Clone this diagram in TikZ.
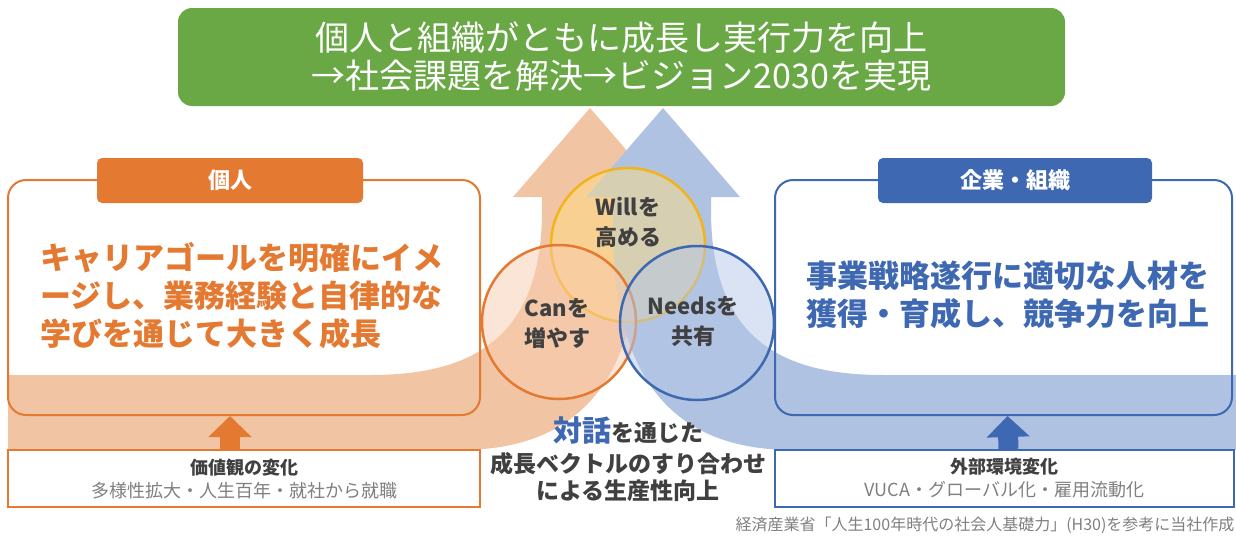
\documentclass[tikz,border=0pt]{standalone}
\usepackage{fontspec}
\setmainfont{Noto Sans CJK JP}
\usepackage{tikz}
\usetikzlibrary{arrows.meta, calc}

\definecolor{goalgreen}{RGB}{106,168,70}
\definecolor{indivorange}{RGB}{228,121,50}
\definecolor{indivlight}{RGB}{241,197,164}
\definecolor{canfill}{RGB}{248,203,173}
\definecolor{corpblue}{RGB}{63,104,178}
\definecolor{corplight}{RGB}{176,194,225}
\definecolor{needsfill}{RGB}{180,199,231}
\definecolor{willgold}{RGB}{242,180,24}
\definecolor{willfill}{RGB}{255,220,130}
\definecolor{darktext}{RGB}{64,64,64}
\definecolor{subgray}{RGB}{128,128,128}

\newcommand{\fsz}[2]{\fontsize{#1}{#2}\selectfont}

\begin{document}
\begin{tikzpicture}[x=1pt, y=-1pt,
    bigbox/.style={draw=#1, line width=2pt, rounded corners=18pt, minimum height=235pt, inner sep=0pt},
    tabbox/.style={fill=#1, rounded corners=5pt, text=white, font=\fsz{22}{26}\bfseries, minimum height=45pt, inner sep=0pt},
    basebox/.style={draw=#1, fill=white, line width=2pt, minimum height=57pt, inner sep=0pt, align=center, font=\fsz{18}{23}},
    ring/.style={circle, draw=#1, line width=2.5pt, minimum size=154pt, inner sep=0pt, fill opacity=0.5},
    ringtext/.style={align=center, text=darktext, font=\fsz{22}{30}\bfseries},
    lift/.style={draw=#1, line width=20pt, -{Triangle[width=42pt, length=21pt]}}]
    \useasboundingbox (0,0) rectangle (1236,538);

    % growth arrows
    \fill[indivlight] (542,197) -- (513,197) -- (590,108) -- (667,197) -- (640,197) -- (640,230)
        .. controls (640,390) and (570,450) .. (460,450) -- (8,450) -- (8,375) -- (370,375)
        .. controls (470,375) and (542,340) .. (542,210) -- cycle;
    \fill[corplight] (711,197) -- (740,197) -- (663,108) -- (586,197) -- (613,197) -- (613,230)
        .. controls (613,390) and (683,450) .. (793,450) -- (1236,450) -- (1236,375) -- (883,375)
        .. controls (783,375) and (711,340) .. (711,210) -- cycle;

    % goal
    \node[fill=goalgreen, rounded corners=14pt, minimum width=887pt, minimum height=98pt,
        text=white, align=center, font=\fsz{34}{38}] (goal) at (621.5,57)
        {個人と組織がともに成長し実行力を向上\\→社会課題を解決→ビジョン2030を実現};

    % individual side
    \node[bigbox=indivorange, minimum width=472pt] (indiv) at (244,297.5) {};
    \node[tabbox=indivorange, minimum width=266pt] (indivtab) at (230,180.5) {個人};
    \node[anchor=west, align=left, text=indivorange, font=\fsz{31}{38}\bfseries] (indivtxt) at (37,296)
        {キャリアゴールを明確にイメ\\ージし、業務経験と自律的な\\学びを通じて大きく成長};
    \node[basebox=indivorange, minimum width=472pt] (valchg) at (244,478.5)
        {{\bfseries\color{darktext}価値観の変化}\\{\color{subgray}多様性拡大・人生百年・就社から就職}};
    \draw[lift=indivorange] ([xshift=-14pt]valchg.north) -- ([xshift=-14pt]indiv.south);

    % company side
    \node[bigbox=corpblue, minimum width=457pt] (corp) at (1003.5,297.5) {};
    \node[tabbox=corpblue, minimum width=274pt] (corptab) at (1015,180.5) {企業・組織};
    \node[anchor=west, align=left, text=corpblue, font=\fsz{31}{38}\bfseries] (corptxt) at (803,295)
        {事業戦略遂行に適切な人材を\\獲得・育成し、競争力を向上};
    \node[basebox=corpblue, minimum width=459pt] (envchg) at (1004.5,478.5)
        {{\bfseries\color{darktext}外部環境変化}\\{\color{subgray}VUCA・グローバル化・雇用流動化}};
    \draw[lift=corpblue] ([xshift=4pt]envchg.north) -- ([xshift=4pt]corp.south);

    % Will / Can / Needs
    \node[ring=willgold, fill=willfill] (will) at (628,245) {};
    \node[ring=indivorange, fill=canfill] (can) at (559,322) {};
    \node[ring=corpblue, fill=needsfill] (needs) at (697,323) {};
    \node[ringtext] (willtxt) at (628,222) {Willを\\高める};
    \node[ringtext] (cantxt) at (557,323) {Canを\\増やす};
    \node[ringtext] (needstxt) at (693,322) {Needsを\\共有};

    % dialogue
    \node[align=center, text=darktext, font=\fsz{23}{27}\bfseries] (dialog) at (628,459)
        {{\color{corpblue}\fsz{29}{30}対話}を通じた\\[4pt]成長ベクトルのすり合わせ\\による生産性向上};

    % source
    \node[anchor=east, text=subgray, font=\fsz{16}{18}] (source) at (1238,525)
        {経済産業省「人生100年時代の社会人基礎力」(H30)を参考に当社作成};
\end{tikzpicture}
\end{document}
